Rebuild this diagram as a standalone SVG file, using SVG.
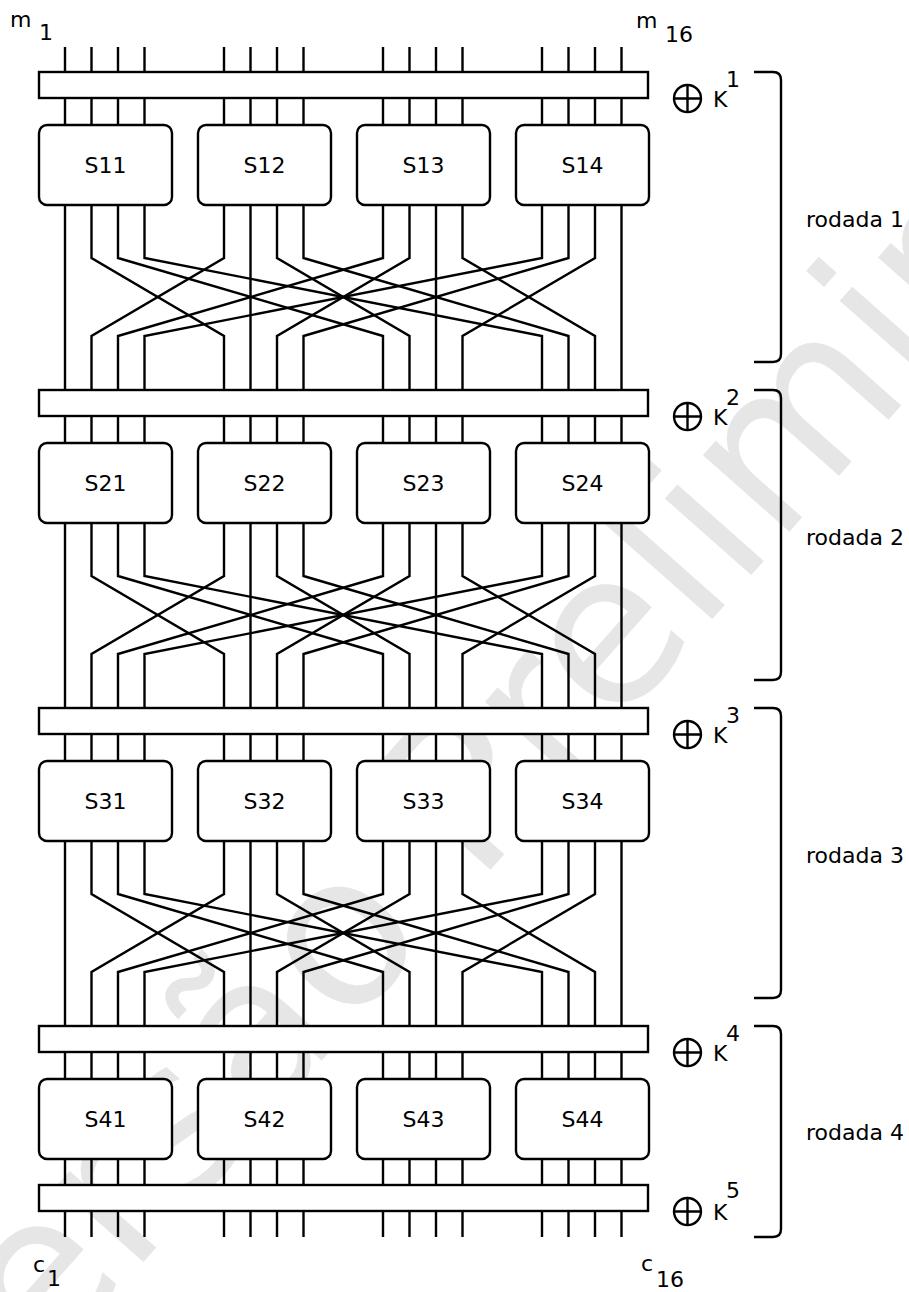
<svg xmlns="http://www.w3.org/2000/svg" width="909" height="1292" viewBox="0 0 909 1292">
<style>
.w{fill:none;stroke:#000;stroke-width:2.4;stroke-linejoin:miter}
.bar{fill:#fff;stroke:#000;stroke-width:2.4}
.box{fill:#fff;stroke:#000;stroke-width:2.4}
.t{font-family:"DejaVu Sans",sans-serif;font-size:22px;fill:#000}
.lbl{font-family:"DejaVu Sans",sans-serif;font-size:22px;fill:#000;text-anchor:middle}
.x{fill:none;stroke:#000;stroke-width:2.4}
.wm{font-family:"DejaVu Sans",sans-serif;font-size:211px;fill:#e6e6e6}
</style>
<defs>
<g id="xor"><circle cx="0" cy="0" r="13.5" class="x"/><path d="M0,-13.5V13.5M-13.5,0H13.5" class="x"/></g>
</defs>
<g id="watermark"><text class="wm" transform="translate(-40,1469.3) rotate(-48.5)">Versão Preliminar</text></g>
<g id="connectors">
<path class="w" d="M65,47V72M91.5,47V72M118,47V72M144.5,47V72M224,47V72M250.5,47V72M277,47V72M303.5,47V72M383,47V72M409.5,47V72M436,47V72M462.5,47V72M542,47V72M568.5,47V72M595,47V72M621.5,47V72"/>
<path class="w" d="M65,98V125M91.5,98V125M118,98V125M144.5,98V125M224,98V125M250.5,98V125M277,98V125M303.5,98V125M383,98V125M409.5,98V125M436,98V125M462.5,98V125M542,98V125M568.5,98V125M595,98V125M621.5,98V125"/>
<path class="w" d="M65,416V443M91.5,416V443M118,416V443M144.5,416V443M224,416V443M250.5,416V443M277,416V443M303.5,416V443M383,416V443M409.5,416V443M436,416V443M462.5,416V443M542,416V443M568.5,416V443M595,416V443M621.5,416V443"/>
<path class="w" d="M65,734V761M91.5,734V761M118,734V761M144.5,734V761M224,734V761M250.5,734V761M277,734V761M303.5,734V761M383,734V761M409.5,734V761M436,734V761M462.5,734V761M542,734V761M568.5,734V761M595,734V761M621.5,734V761"/>
<path class="w" d="M65,1052V1079M91.5,1052V1079M118,1052V1079M144.5,1052V1079M224,1052V1079M250.5,1052V1079M277,1052V1079M303.5,1052V1079M383,1052V1079M409.5,1052V1079M436,1052V1079M462.5,1052V1079M542,1052V1079M568.5,1052V1079M595,1052V1079M621.5,1052V1079"/>
<path class="w" d="M65,1159V1185M91.5,1159V1185M118,1159V1185M144.5,1159V1185M224,1159V1185M250.5,1159V1185M277,1159V1185M303.5,1159V1185M383,1159V1185M409.5,1159V1185M436,1159V1185M462.5,1159V1185M542,1159V1185M568.5,1159V1185M595,1159V1185M621.5,1159V1185"/>
<path class="w" d="M65,1211V1237M91.5,1211V1237M118,1211V1237M144.5,1211V1237M224,1211V1237M250.5,1211V1237M277,1211V1237M303.5,1211V1237M383,1211V1237M409.5,1211V1237M436,1211V1237M462.5,1211V1237M542,1211V1237M568.5,1211V1237M595,1211V1237M621.5,1211V1237"/>
<g id="perm1">
<path class="w" d="M65,205V390"/>
<path class="w" d="M91.5,205V258L224,336V390"/>
<path class="w" d="M118,205V258L383,336V390"/>
<path class="w" d="M144.5,205V258L542,336V390"/>
<path class="w" d="M224,205V258L91.5,336V390"/>
<path class="w" d="M250.5,205V390"/>
<path class="w" d="M277,205V258L409.5,336V390"/>
<path class="w" d="M303.5,205V258L568.5,336V390"/>
<path class="w" d="M383,205V258L118,336V390"/>
<path class="w" d="M409.5,205V258L277,336V390"/>
<path class="w" d="M436,205V390"/>
<path class="w" d="M462.5,205V258L595,336V390"/>
<path class="w" d="M542,205V258L144.5,336V390"/>
<path class="w" d="M568.5,205V258L303.5,336V390"/>
<path class="w" d="M595,205V258L462.5,336V390"/>
<path class="w" d="M621.5,205V390"/>
</g>
<use href="#perm1" y="318"/>
<use href="#perm1" y="636"/>
</g>
<g id="bars">
<rect class="bar" x="39" y="72" width="609" height="26"/>
<rect class="bar" x="39" y="390" width="609" height="26"/>
<rect class="bar" x="39" y="708" width="609" height="26"/>
<rect class="bar" x="39" y="1026" width="609" height="26"/>
<rect class="bar" x="39" y="1185" width="609" height="26"/>
</g>
<g id="S11"><rect class="box" x="39" y="125" width="133" height="80" rx="8"/><text class="lbl" x="105.5" y="173">S11</text></g>
<g id="S12"><rect class="box" x="198" y="125" width="133" height="80" rx="8"/><text class="lbl" x="264.5" y="173">S12</text></g>
<g id="S13"><rect class="box" x="357" y="125" width="133" height="80" rx="8"/><text class="lbl" x="423.5" y="173">S13</text></g>
<g id="S14"><rect class="box" x="516" y="125" width="133" height="80" rx="8"/><text class="lbl" x="582.5" y="173">S14</text></g>
<g id="S21"><rect class="box" x="39" y="443" width="133" height="80" rx="8"/><text class="lbl" x="105.5" y="491">S21</text></g>
<g id="S22"><rect class="box" x="198" y="443" width="133" height="80" rx="8"/><text class="lbl" x="264.5" y="491">S22</text></g>
<g id="S23"><rect class="box" x="357" y="443" width="133" height="80" rx="8"/><text class="lbl" x="423.5" y="491">S23</text></g>
<g id="S24"><rect class="box" x="516" y="443" width="133" height="80" rx="8"/><text class="lbl" x="582.5" y="491">S24</text></g>
<g id="S31"><rect class="box" x="39" y="761" width="133" height="80" rx="8"/><text class="lbl" x="105.5" y="809">S31</text></g>
<g id="S32"><rect class="box" x="198" y="761" width="133" height="80" rx="8"/><text class="lbl" x="264.5" y="809">S32</text></g>
<g id="S33"><rect class="box" x="357" y="761" width="133" height="80" rx="8"/><text class="lbl" x="423.5" y="809">S33</text></g>
<g id="S34"><rect class="box" x="516" y="761" width="133" height="80" rx="8"/><text class="lbl" x="582.5" y="809">S34</text></g>
<g id="S41"><rect class="box" x="39" y="1079" width="133" height="80" rx="8"/><text class="lbl" x="105.5" y="1127">S41</text></g>
<g id="S42"><rect class="box" x="198" y="1079" width="133" height="80" rx="8"/><text class="lbl" x="264.5" y="1127">S42</text></g>
<g id="S43"><rect class="box" x="357" y="1079" width="133" height="80" rx="8"/><text class="lbl" x="423.5" y="1127">S43</text></g>
<g id="S44"><rect class="box" x="516" y="1079" width="133" height="80" rx="8"/><text class="lbl" x="582.5" y="1127">S44</text></g>
<g id="keys">
<use href="#xor" x="687.5" y="98.5"/>
<use href="#xor" x="687.5" y="416.5"/>
<use href="#xor" x="687.5" y="734.5"/>
<use href="#xor" x="687.5" y="1052.5"/>
<use href="#xor" x="687.5" y="1211.5"/>
<text class="t" x="713" y="107">K</text><text class="t" x="726" y="87">1</text>
<text class="t" x="713" y="425">K</text><text class="t" x="726" y="405">2</text>
<text class="t" x="713" y="743">K</text><text class="t" x="726" y="723">3</text>
<text class="t" x="713" y="1061">K</text><text class="t" x="726" y="1041">4</text>
<text class="t" x="713" y="1220">K</text><text class="t" x="726" y="1198">5</text>
</g>
<g id="rounds">
<path class="w" d="M754,72H773Q781,72 781,80V354Q781,362 773,362H754"/>
<path class="w" d="M754,390H773Q781,390 781,398V672Q781,680 773,680H754"/>
<path class="w" d="M754,708H773Q781,708 781,716V990Q781,998 773,998H754"/>
<path class="w" d="M754,1026H773Q781,1026 781,1034V1229Q781,1237 773,1237H754"/>
<text class="t" x="806" y="227">rodada 1</text>
<text class="t" x="806" y="545">rodada 2</text>
<text class="t" x="806" y="863">rodada 3</text>
<text class="t" x="806" y="1140">rodada 4</text>
</g>
<g id="io">
<text class="t" x="10" y="27">m</text><text class="t" x="39" y="40">1</text>
<text class="t" x="636" y="28">m</text><text class="t" x="665" y="42">16</text>
<text class="t" x="33" y="1272">c</text><text class="t" x="47" y="1286">1</text>
<text class="t" x="641" y="1271">c</text><text class="t" x="656" y="1287">16</text>
</g>
</svg>
